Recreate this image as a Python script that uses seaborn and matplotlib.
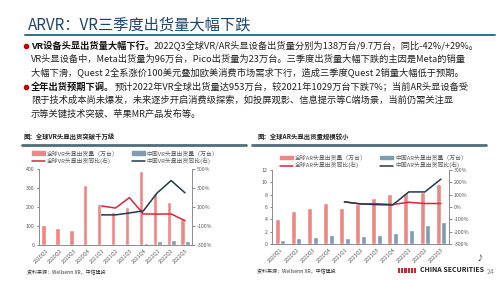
import numpy as np
import pandas as pd
import seaborn as sns
import matplotlib.pyplot as plt
from matplotlib.lines import Line2D
from matplotlib.patches import Patch, Rectangle
from matplotlib.ticker import FuncFormatter

# === Data ===
quarters = ['2020Q1', '2020Q2', '2020Q3', '2020Q4', '2021Q1', '2021Q2',
            '2021Q3', '2021Q4', '2022Q1', '2022Q2', '2022Q3']

vr_global = [104, 90, 77, 317, 218, 174, 202, 392, 273, 229, 138]
vr_china = [3, 2, 2, 5, 5, 5, 8, 10, 20, 28, 22]
vr_global_yoy = [np.nan] * 4 + [112, 90, 200, 28, 26, 28, -43]
vr_china_yoy = [np.nan] * 4 + [18, 18, 38, 60, 250, 380, 250]

ar_global = [4.1, 5.4, 5.8, 6.6, 5.8, 6.5, 7.4, 8.1, 8.2, 8.5, 9.7]
ar_china = [0.6, 1.0, 1.2, 1.5, 1.0, 1.3, 1.5, 1.8, 2.2, 3.0, 3.5]
ar_global_yoy = [np.nan] * 4 + [42, 24, 26, 20, 38, 28, 28]
ar_china_yoy = [np.nan] * 4 + [41, 25, 19, 16, 122, 122, 226]

title = 'ARVR：VR三季度出货量大幅下跌'
body_lines = [
    ('VR设备头显出货量大幅下行。', '2022Q3全球VR/AR头显设备出货量分别为138万台/9.7万台，同比-42%/+29%。'),
    ('', 'VR头显设备中，Meta出货量为96万台，Pico出货量为23万台。三季度出货量大幅下跌的主因是Meta的销量'),
    ('', '大幅下滑，Quest 2全系涨价100美元叠加欧美消费市场需求下行，造成三季度Quest 2销量大幅低于预期。'),
    ('全年出货预期下调。', '预计2022年VR全球出货量达953万台，较2021年1029万台下跌7%；当前AR头显设备受'),
    ('', '限于技术成本尚未爆发，未来逐步开启消费级探索，如投屏观影、信息提示等C端场景，当前仍需关注显'),
    ('', '示等关键技术突破、苹果MR产品发布等。'),
]
bullet_rows = [0, 3]
source = '资料来源：Wellsenn XR，中信建投'

C_BAR_G = '#f08585'
C_BAR_C = '#7d9db0'
C_LINE_G = '#d62839'
C_LINE_C = '#1f3a4c'
C_TEXT = '#595959'

sns.set_theme(style='white')
plt.rcParams['font.family'] = ['Noto Sans CJK SC', 'DejaVu Sans']

fig = plt.figure(figsize=(5, 2.81), dpi=100)
bg = fig.add_axes([0, 0, 1, 1])
bg.set_xlim(0, 500)
bg.set_ylim(281, 0)
bg.axis('off')

# === Header ===
bg.text(28, 25, title, fontsize=11, color='#1f4564', va='center')
bg.plot([25, 495], [35, 35], color='#3b6c88', lw=1.4)

# === Body text (size fitted to the first line's width) ===
renderer = fig.canvas.get_renderer()
probe = bg.text(31, 46, body_lines[0][0] + body_lines[0][1], fontsize=6.5)
w = probe.get_window_extent(renderer).width
probe.remove()
fs = 6.5 * 448 / w

y0, dy = 46, 13.6
for i, (bold, rest) in enumerate(body_lines):
    y = y0 + i * dy
    if i in bullet_rows:
        bg.plot(26, y, 'o', color='#c00000', ms=3)
    if bold:
        t = bg.text(31, y, bold, fontsize=fs, fontweight='bold', color='#111111', va='center')
        bg.annotate(rest, xy=(1, 0), xycoords=t, va='bottom', ha='left',
                    fontsize=fs, color='#222222')
    else:
        bg.text(31, y, rest, fontsize=fs, color='#222222', va='center')

# === Chart captions ===
bg.text(24, 137, '图：全球VR头显出货突破千万级', fontsize=4.6, color='#222222',
        fontweight='bold', va='center')
bg.text(258, 137, '图：全球AR头显出货量规模较小', fontsize=4.6, color='#222222',
        fontweight='bold', va='center')
bg.plot([22, 246], [144.5, 144.5], color='#4e6e7a', lw=2)
bg.plot([252, 486], [144.5, 144.5], color='#4e6e7a', lw=2)

# === Footer ===
bg.text(27, 273, source, fontsize=3.6, color='#333333', style='italic', va='center')
bg.text(257, 272, source, fontsize=3.6, color='#333333', style='italic', va='center')
for k in range(6):
    bg.add_patch(Rectangle((398 + k * 3.2, 267.5), 2.2, 5, color='#d0262f', lw=0))
bg.text(420, 270, 'CHINA SECURITIES', fontsize=5, fontweight='bold', color='#222222', va='center')
bg.text(476, 258, '♪', fontsize=5, color='#222222', va='center')
bg.text(487, 272, '24', fontsize=5, color='#8c8c8c', va='center')


def draw_chart(rect, glob, china, glob_yoy, china_yoy, region, ylim, yticks, y2lim, y2ticks, leg_box):
    bars = pd.DataFrame({
        'quarter': quarters * 2,
        'shipments': glob + china,
        'series': ['global'] * len(quarters) + ['china'] * len(quarters),
    })
    pos = list(range(len(quarters)))
    yoy = pd.DataFrame({
        'pos': pos * 2,
        'yoy': glob_yoy + china_yoy,
        'series': ['global'] * len(quarters) + ['china'] * len(quarters),
    }).dropna()

    ax = fig.add_axes(rect)
    sns.barplot(data=bars, x='quarter', y='shipments', hue='series',
                hue_order=['global', 'china'], palette=[C_BAR_G, C_BAR_C],
                width=0.7, gap=0.1, saturation=1, legend=False, ax=ax)
    ax2 = ax.twinx()
    sns.lineplot(data=yoy, x='pos', y='yoy', hue='series',
                 hue_order=['global', 'china'], palette=[C_LINE_G, C_LINE_C],
                 linewidth=1.1, legend=False, ax=ax2)

    ax.set_xlim(-0.5, len(quarters) - 0.5)
    ax.set_ylim(*ylim)
    ax.set_yticks(yticks)
    ax2.set_ylim(*y2lim)
    ax2.set_yticks(y2ticks)
    ax2.yaxis.set_major_formatter(FuncFormatter(lambda v, _: f'{v:.0f}%'))
    ax.set_xlabel('')
    ax.set_ylabel('')
    ax2.set_ylabel('')
    ax.set_xticks(pos)
    ax.set_xticklabels(quarters, rotation=45, ha='right', rotation_mode='anchor')

    for a in (ax, ax2):
        a.set_facecolor('none')
        for s in a.spines.values():
            s.set_color('#8c8c8c')
            s.set_linewidth(0.6)
        a.spines['top'].set_visible(False)
        a.tick_params(labelsize=3.8, colors=C_TEXT, length=1.8, width=0.5, pad=1.5)
    ax.tick_params(axis='x', length=0, pad=2)
    ax2.grid(False)
    ax.grid(False)

    handles = [
        Patch(color=C_BAR_G, label=f'全球{region}头显出货量（万台）'),
        Line2D([], [], color=C_LINE_G, lw=1.1, label=f'全球{region}头显出货同比(右)'),
        Patch(color=C_BAR_C, label=f'中国{region}头显出货量（万台）'),
        Line2D([], [], color=C_LINE_C, lw=1.1, label=f'中国{region}头显出货同比(右)'),
    ]
    ax.legend(handles=handles, ncol=2, loc='lower left', bbox_to_anchor=leg_box,
              bbox_transform=fig.transFigure, frameon=False, fontsize=4.2,
              handlelength=2.2, handleheight=0.5, columnspacing=2.2,
              labelspacing=0.3, borderpad=0, handletextpad=0.4, labelcolor=C_TEXT)


# left: VR, right: AR
draw_chart([0.078, 0.128, 0.306, 0.270], vr_global, vr_china, vr_global_yoy, vr_china_yoy, 'VR',
           (0, 400), [0, 100, 200, 300, 400], (-300, 500), [-300, -100, 100, 300, 500],
           (0.058, 0.405))
draw_chart([0.544, 0.132, 0.354, 0.263], ar_global, ar_china, ar_global_yoy, ar_china_yoy, 'AR',
           (0, 12), [0, 2, 4, 6, 8, 10, 12], (-300, 300), [-300, -200, -100, 0, 100, 200, 300],
           (0.554, 0.390))

fig.savefig('out.png', dpi=100)
